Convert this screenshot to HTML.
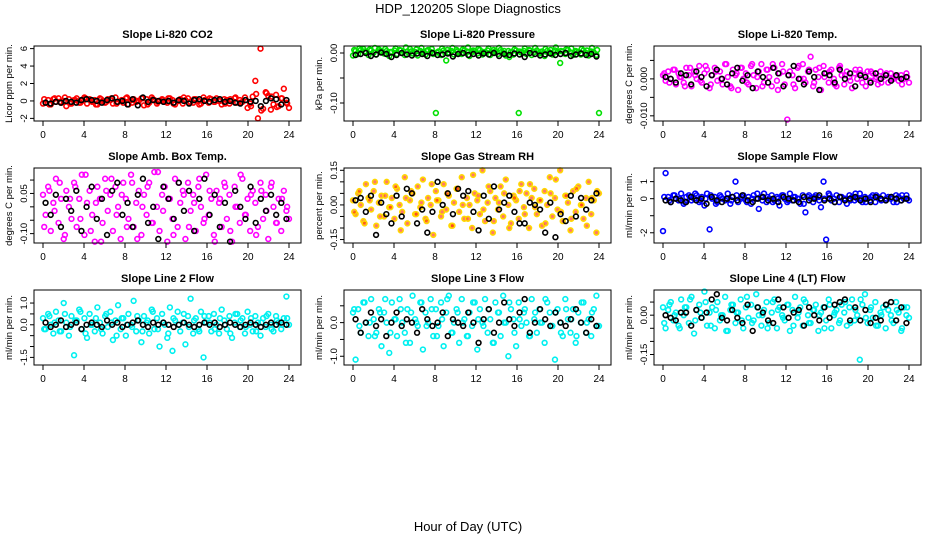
<!DOCTYPE html>
<html><head><meta charset="utf-8"><style>
html,body{margin:0;padding:0;background:#fff;}
svg{display:block;font-family:"Liberation Sans",Arial,sans-serif;}
</style></head><body>
<svg id="chart" width="936" height="540" viewBox="0 0 936 540">
<text x="468" y="13" text-anchor="middle" font-size="13">HDP_120205  Slope Diagnostics</text>
<text x="468" y="531" text-anchor="middle" font-size="13">Hour of Day (UTC)</text>
</svg>
<script>
const hourTicks=[0,4,8,12,16,20,24];
const titles=["Slope Li-820 CO2","Slope Li-820 Pressure","Slope Li-820 Temp.","Slope Amb. Box Temp.","Slope Gas Stream RH","Slope Sample Flow","Slope Line 2 Flow","Slope Line 3 Flow","Slope Line 4 (LT) Flow"];
const yLabels=["Licor ppm per min.","kPa per min.","degrees C per min.","degrees C per min.","percent per min.","ml/min per min.","ml/min per min.","ml/min per min.","ml/min per min."];
const yRanges=[[-2.3,6.3],[-0.136,0.014],[-0.0114,0.0089],[-0.135,0.145],[-0.165,0.16],[-2.6,1.8],[-1.85,1.6],[-1.26,0.97],[-0.19,0.096]];
const yTicks=[[-2,0,2,4,6],[-0.10,-0.05,0.00],[-0.010,-0.005,0.000,0.005],[-0.10,-0.05,0.00,0.05,0.10],[-0.15,-0.10,-0.05,0.00,0.05,0.10,0.15],[-2,-1,0,1],[-1.5,-1.0,-0.5,0.0,0.5,1.0],[-1.0,-0.5,0.0,0.5],[-0.15,-0.10,-0.05,0.00,0.05]];
const yTickLabels=[["-2","0","2","4","6"],["-0.10","","0.00"],["-0.010","","0.000",""],["-0.10","","","0.05",""],["-0.15","","","0.00","","","0.15"],["-2","","0","1"],["-1.5","","","0.0","","1.0"],["-1.0","","0.0",""],["-0.15","","","0.00",""]];
const colors=["#ff0000","#00e000","#ff00ff","#ff00ff","#ffd800","#0000ff","#00f0f0","#00f0f0","#00f0f0"];

const co2Color=[-0.3,-0.2,0.1,-0.4,0.2,-0.1,0.3,-0.2,0.0,-0.6,0.2,-0.3,0.1,0.3,-0.2,0.0,0.4,-0.3,0.2,-0.1,0.1,-0.4,0.3,0.0,-0.2,0.2,0.1,-0.3,0.4,-0.1,0.0,-0.2,0.3,-0.4,0.1,0.2,-0.1,0.0,0.3,-0.5,0.2,-0.2,0.4,0.1,-0.3,0.0,0.2,-0.1,-0.2,0.3,0.1,-0.4,0.0,0.2,-0.3,0.1,0.3,-0.1,-0.2,0.2,0.0,-0.3,0.4,0.1,-0.2,0.2,-0.1,0.3,0.0,-0.4,0.2,0.1,-0.3,0.0,0.3,-0.2,0.1,-0.1,0.4,-0.8,-0.3,0.5,2.3,-2.0,6.0,-0.9,1.0,0.6,-1.0,-0.4,0.7,-0.6,0.3,1.4,-0.2,-0.8];
const co2Extra=[0.2,-0.4,0.3,-0.1,0.4,-0.3,0.1,-0.2,0.3,0.0,-0.4,0.2,-0.1,0.3,-0.3,0.1,0.4,-0.2,0.0,0.3,-0.4,0.2,-0.1,0.1,0.3,-0.3,0.0,0.4,-0.2,0.2,-0.4,0.1,0.3,-0.1,0.0,-0.3,0.2,0.4,-0.2,0.1,-0.6,0.8,-1.1,0.9,0.5,-0.7,0.3,-0.3];
const co2Black=[-0.2,-0.3,-0.1,-0.2,0.0,-0.1,-0.2,0.1,0.2,0.1,0.0,-0.2,0.1,0.3,-0.1,0.0,-0.4,0.2,-0.5,0.4,-0.1,0.1,0.0,-0.1,0.0,-0.2,0.1,0.0,-0.3,0.1,0.2,0.0,-0.1,0.1,0.2,-0.1,0.0,-0.2,-0.3,0.1,-0.1,0.0,-0.6,0.0,0.3,0.2,-0.4,0.1];
const presColor=[-0.005,0.004,-0.002,0.006,0.008,0.002,-0.004,0.005,0.001,-0.003,0.007,0.003,-0.001,0.004,-0.006,0.002,0.005,-0.002,0.006,0.000,-0.004,0.003,0.008,-0.001,0.002,-0.005,0.004,0.001,-0.003,0.006,0.002,-0.002,-0.120,0.003,-0.004,0.005,-0.015,0.001,0.004,-0.003,0.006,0.000,-0.002,0.005,0.003,-0.006,0.002,0.004,-0.001,0.006,-0.003,0.002,0.005,-0.004,0.001,0.003,-0.002,0.006,0.000,-0.005,0.004,0.002,-0.003,0.005,-0.120,0.001,0.004,-0.002,0.006,-0.004,0.002,0.005,-0.001,0.003,-0.006,0.004,0.001,-0.003,0.005,0.002,-0.020,0.003,-0.002,0.006,0.001,-0.004,0.004,0.002,-0.003,0.005,0.000,-0.005,0.003,0.001,-0.004,-0.120];
const presExtra=[0.006,0.009,0.003,0.007,0.010,0.004,0.008,0.002,0.009,0.005,0.011,0.003,0.007,0.010,0.004,0.008,0.001,0.009,0.006,0.010,0.003,0.007,0.011,0.005,0.008,0.002,0.009,0.006,0.010,0.004,-0.008,0.007,0.003,0.009,0.005,0.010,0.002,0.008,0.006,0.011,0.004,0.007,0.009,0.003,0.008,0.005,0.010,0.006];
const presBlack=[-0.004,-0.002,0.000,-0.006,-0.003,0.001,-0.002,-0.008,-0.004,0.000,-0.003,-0.005,-0.001,-0.002,-0.006,0.000,-0.004,-0.003,-0.001,-0.007,-0.002,0.000,-0.004,-0.002,-0.005,-0.001,-0.003,0.000,-0.006,-0.002,-0.004,-0.001,-0.003,-0.008,0.000,-0.002,-0.005,-0.003,-0.001,-0.004,-0.002,0.000,-0.006,-0.003,-0.001,-0.004,-0.002,-0.007];
const tempColor=[0.001,-0.0005,0.002,0,0.0025,-0.0015,0.0015,0.0005,-0.001,0.003,0.001,-0.002,0.002,0,0.0035,-0.001,0.0015,0.0025,-0.0025,0.001,0.003,-0.0005,0.002,-0.0015,0.004,0.0005,-0.002,0.0025,0.001,-0.003,0.003,0,0.0015,-0.0015,0.0035,0.001,-0.0025,0.002,0.004,-0.001,0.0025,0.0005,-0.002,0.003,-0.0005,0.0015,0.004,-0.0015,-0.011,0.002,0.001,-0.0025,0.003,0,0.004,-0.001,0.002,0.006,-0.002,0.0025,0.0005,-0.003,0.0035,0.0015,-0.001,0.0025,0,-0.002,0.003,0.001,-0.0015,0.002,0.0005,-0.0025,0.0015,0,0.0025,-0.001,0.001,0.002,-0.0005,0.0015,0,-0.0015,0.002,0.0005,0.001,-0.001,0.0015,0,0.0005,-0.0005,0.001,0,0.0015,-0.001];
const tempExtra=[0.0015,-0.001,0.0025,0.0005,-0.002,0.003,0.001,-0.0005,0.0035,-0.0015,0.002,0,0.004,-0.0025,0.0015,0.003,-0.001,0.004,0.0005,-0.002,0.0025,0.004,-0.003,0.002,0.001,-0.0015,0.0035,0,0.0025,-0.001,0.003,0.0005,0.002,-0.0015,0.0035,0.001,-0.0005,0.0025,0.0015,-0.002,0.002,0.0005,-0.001,0.0015,0,0.001,-0.0015,0.0005];
const tempBlack=[0.0005,0,-0.001,0.0015,0.001,-0.0015,0.002,0.0005,-0.002,0.001,0.0025,0,-0.0015,0.0015,0.003,-0.0005,0.001,-0.0025,0.002,0.0005,-0.001,0.003,0.0015,-0.002,0.001,0.0035,0,-0.0015,0.002,0.0005,-0.003,0.0015,0.001,-0.001,0.0025,0,0.0015,-0.002,0.001,0.0005,-0.001,0.0015,0,0.001,-0.0005,0.001,0,0.0005];
const ambColor=[0.045,-0.03,0.075,-0.09,0.015,0.105,-0.06,0.03,-0.12,0.06,0,-0.045,0.09,-0.075,0.03,0.12,-0.105,0.015,0.06,-0.03,-0.13,0.075,0.03,-0.06,0.105,-0.015,0.045,-0.09,0.075,0,-0.12,0.09,0.03,-0.045,0.12,-0.075,0.015,0.06,-0.105,0.045,-0.03,0.09,-0.06,0.13,0,-0.09,0.045,0.075,-0.13,0.03,-0.045,0.105,-0.075,0.015,0.06,-0.12,0.09,-0.015,0.045,-0.09,0.075,0,-0.06,0.12,-0.03,0.03,-0.105,0.06,0.015,-0.075,0.09,-0.045,0.045,-0.13,0.075,0,-0.06,0.105,-0.03,0.03,-0.09,0.06,0.015,-0.075,0.09,-0.045,0.045,-0.12,0.075,0,-0.06,0.03,-0.09,0.06,-0.015,-0.045];
const ambExtra=[-0.075,0.06,-0.015,0.09,-0.105,0.03,0.075,-0.045,0.12,-0.09,0.015,-0.13,0.06,0.105,-0.03,0.045,-0.075,0.09,-0.12,0,0.075,-0.06,0.13,-0.015,0.03,-0.105,0.09,0.045,-0.075,0.015,0.105,-0.045,0.06,-0.13,0.03,0.075,-0.09,0,0.12,-0.03,0.045,-0.105,0.06,-0.015,0.09,-0.06,0.03,0];
const ambBlack=[0.015,-0.03,0.045,-0.075,0.03,-0.015,0.06,-0.09,0,0.075,-0.045,0.03,-0.105,0.06,0.09,-0.03,0.015,-0.075,0.045,0.105,-0.06,0,-0.12,0.075,0.03,-0.045,0.09,-0.015,0.06,-0.09,0.03,0.105,-0.03,0.045,-0.075,0.015,-0.13,0.06,0,-0.045,0.075,-0.06,0.03,-0.015,0.045,-0.03,0.015,-0.045];
const rhColor=[0.02,-0.04,0.05,0.00,-0.07,0.09,0.03,-0.02,0.06,-0.09,0.01,0.04,-0.05,0.10,-0.01,0.03,-0.06,0.07,0.00,-0.03,0.12,-0.08,0.02,0.05,-0.04,0.08,-0.01,0.11,-0.06,0.03,0.00,-0.13,0.06,0.02,-0.05,0.09,-0.02,0.04,-0.09,0.01,0.07,-0.03,0.12,-0.06,0.03,0.00,-0.10,0.05,0.02,-0.04,0.15,-0.07,0.01,0.06,-0.12,0.03,-0.02,0.08,-0.05,0.11,0.00,-0.08,0.04,0.02,-0.06,0.09,-0.01,0.05,-0.10,0.03,0.07,-0.04,0.02,-0.09,0.06,0.00,0.12,-0.05,0.03,-0.02,0.15,-0.07,0.04,0.01,-0.11,0.06,-0.03,0.08,0.00,-0.06,0.03,0.10,-0.04,0.02,-0.12,0.05];
const rhExtra=[-0.03,0.06,-0.08,0.02,0.10,-0.05,0.04,-0.01,0.08,-0.11,0.03,0.06,-0.04,0.01,-0.07,0.09,0.02,-0.03,0.05,-0.09,0.07,0.00,-0.06,0.13,0.04,-0.02,0.08,-0.07,0.01,0.05,-0.10,0.03,0.06,-0.04,0.09,-0.01,0.02,-0.08,0.05,0.11,-0.03,0.04,-0.06,0.07,0.00,-0.09,0.03,0.06];
const rhBlack=[0.02,0.03,-0.03,0.04,-0.13,0.01,-0.04,-0.08,0.04,-0.05,0.07,0.05,-0.08,-0.02,-0.12,-0.03,0.10,0.00,0.05,-0.04,0.07,0.04,0.06,-0.03,-0.11,0.04,-0.06,0.08,-0.02,0.01,0.04,-0.03,-0.08,-0.08,0.01,0.00,-0.02,-0.12,0.01,-0.14,-0.04,-0.07,0.04,-0.05,0.03,-0.02,0.02,0.05];
const flowColor=[-1.9,1.5,0.1,-0.2,0.2,0.0,-0.1,0.3,-0.3,0.1,0.2,-0.1,0.0,0.2,-0.2,0.1,-0.4,0.3,-1.8,0.0,0.1,-0.2,0.2,0.0,-0.1,0.3,-0.3,0.1,1.0,-0.2,0.0,0.2,-0.1,0.1,-0.3,0.2,0.0,-0.6,0.1,0.3,-0.2,0.0,0.2,-0.1,0.1,-0.4,0.2,0.0,-0.2,0.3,-0.1,0.1,0.0,-0.3,0.2,-0.8,0.1,0.0,-0.2,0.2,0.1,-0.5,1.0,-2.4,0.3,-0.1,0.0,0.2,-0.2,0.1,0.0,-0.3,0.2,0.1,-0.1,0.0,0.3,-0.2,0.1,0.0,-0.1,0.2,-0.2,0.1,0.0,0.2,-0.1,0.1,0.0,-0.2,0.2,0.1,-0.1,0.0,0.2,-0.1];
const flowExtra=[0.1,-0.1,0.2,0.0,-0.2,0.1,0.3,-0.1,0.0,0.2,-0.3,0.1,0.0,-0.1,0.2,0.1,-0.2,0.0,0.3,-0.1,0.1,-0.2,0.0,0.2,-0.1,0.1,0.0,-0.3,0.2,0.1,-0.1,0.0,0.2,-0.2,0.1,0.0,-0.1,0.3,0.0,-0.2,0.1,0.2,-0.1,0.0,0.1,-0.2,0.2,0.0];
const flowBlack=[-0.1,-0.2,0.0,-0.1,-0.2,0.1,-0.1,0.0,-0.3,0.1,-0.1,-0.2,0.0,0.1,-0.1,0.2,-0.1,-0.2,0.0,0.1,-0.1,0.0,-0.2,0.1,0.0,-0.1,-0.2,0.1,-0.1,0.0,0.2,-0.1,0.0,-0.2,0.1,-0.1,0.0,0.1,-0.1,0.0,-0.2,0.1,0.0,-0.1,0.1,0.0,-0.1,0.0];
const line2Color=[0.3,-0.2,0.5,0.0,-0.4,0.6,0.2,-0.3,1.0,0.1,-0.5,0.4,-1.4,0.2,0.7,-0.2,0.3,-0.6,0.5,0.0,-0.3,0.8,0.1,-0.4,0.4,-0.1,0.6,-0.7,0.2,0.9,-0.2,0.3,-0.5,0.5,0.0,1.1,-0.3,0.2,-0.8,0.4,0.1,-0.4,0.7,-0.2,0.3,-1.0,0.5,0.0,-0.6,0.8,-1.2,0.2,0.6,-0.3,0.1,-0.9,0.4,1.2,-0.4,0.3,-0.2,0.6,-1.5,0.1,0.4,-0.3,0.5,0.0,-0.4,0.7,0.2,-0.2,0.4,-0.6,0.1,0.5,-0.1,0.3,-0.4,0.6,0.0,-0.3,0.4,0.1,-0.5,0.3,-0.1,0.5,0.0,-0.3,0.4,0.1,-0.2,0.3,1.3,0.0];
const line2Extra=[-0.2,0.4,0.1,-0.3,0.5,-0.1,0.2,0.6,-0.4,0.0,0.3,-0.2,0.5,0.1,-0.5,0.3,0.0,-0.1,0.4,-0.3,0.2,0.6,-0.2,0.1,-0.4,0.3,0.0,0.5,-0.1,0.2,-0.3,0.4,0.1,-0.2,0.3,0.0,-0.4,0.5,0.2,-0.1,0.3,-0.3,0.1,0.4,-0.2,0.2,0.0,0.3];
const line2Black=[0.1,-0.1,0.0,0.2,-0.1,0.0,0.1,-0.2,0.0,0.1,0.0,-0.1,0.2,0.0,0.1,-0.1,0.0,0.1,0.2,0.0,-0.1,0.1,0.0,0.1,0.0,-0.1,0.0,0.1,0.0,-0.1,0.0,0.1,0.0,0.1,-0.1,0.0,0.1,0.0,-0.1,0.0,0.1,0.0,-0.1,0.0,0.1,0.0,0.1,0.0];
const line3Color=[0.3,-1.1,0.4,-0.3,0.6,0,-0.4,0.7,0.1,-0.3,0.4,-0.7,0.3,0,-0.9,0.6,0.1,-0.4,0.7,0,-0.3,0.4,-0.6,0.8,0.1,-0.1,0.6,-0.8,0.3,0,0.7,-0.4,0.4,-0.1,0.6,-0.7,0.3,0.8,-0.3,0,0.4,-0.6,0.7,0.1,-0.4,0.3,-0.1,0.6,-0.8,0.4,0,0.7,-0.3,0.1,-0.6,0.6,0.3,-0.4,0.8,0,-1.0,0.4,0.1,-0.7,0.6,-0.1,0.3,0,-0.4,0.7,0.1,-0.3,0.4,0,-0.6,0.6,0.3,-0.1,-1.1,0.4,0,-0.4,0.7,0.1,-0.3,0.4,-0.6,0.3,0,0.6,-0.3,0.1,-0.4,0.4,0.8,-0.1];
const line3Extra=[0.4,-0.1,0.6,0,-0.4,0.3,0.7,-0.3,0.1,0.4,-0.6,0.3,0,0.6,-0.1,0.4,-0.4,0.1,0.7,-0.3,0.3,0,-0.4,0.6,0.1,-0.1,0.4,-0.6,0.3,0,0.6,-0.3,0.1,0.4,-0.4,0.3,0,0.7,-0.1,0.3,-0.3,0.4,0.1,-0.4,0.6,0,0.3,-0.1];
const line3Black=[0.1,-0.3,0,0.3,-0.1,0.1,-0.4,0,0.3,-0.1,0.1,0,-0.3,0.4,0.1,-0.1,0,0.3,-0.4,0.1,0,-0.1,0.3,0,-0.6,0.1,0.4,-0.3,0,0.6,0.1,-0.1,0.3,0.7,-0.3,0,0.4,0.1,-0.1,0.3,0,-0.1,0.1,0.4,0,-0.3,0.1,-0.1];
const line4Color=[0.03,-0.05,0.02,0.05,-0.02,0.01,-0.04,0.06,0.00,0.03,-0.03,0.07,-0.07,0.02,0.04,-0.01,0.09,-0.04,0.01,0.03,-0.05,0.05,-0.02,0.00,0.07,-0.06,0.02,0.04,-0.03,0.01,0.06,-0.05,0.03,-0.01,0.04,-0.02,0.08,0.00,-0.04,0.02,0.05,-0.03,0.01,0.06,-0.05,0.03,0.00,-0.02,0.04,-0.06,0.02,0.07,-0.01,0.03,-0.04,0.05,0.00,-0.03,0.02,0.04,-0.06,0.01,0.03,-0.02,0.06,-0.05,0.00,0.02,-0.03,0.04,0.01,-0.04,0.03,0.06,-0.02,0.00,-0.17,0.04,0.08,-0.03,0.02,-0.01,0.05,-0.04,0.01,0.03,-0.05,0.02,0.00,-0.03,0.05,0.01,-0.06,0.03,0.00,-0.01];
const line4Extra=[-0.03,0.04,0.00,-0.05,0.03,0.06,-0.02,0.01,0.05,-0.04,0.02,0.00,-0.06,0.04,0.01,-0.02,0.07,-0.03,0.03,0.00,-0.05,0.05,0.02,-0.01,0.04,-0.04,0.01,0.06,-0.03,0.02,0.00,-0.05,0.04,0.01,-0.02,0.05,-0.03,0.02,0.06,-0.01,0.03,-0.04,0.00,0.04,-0.02,0.02,-0.05,0.03];
const line4Black=[0.00,-0.01,-0.02,0.01,0.01,-0.04,0.02,-0.01,0.01,0.06,0.08,-0.01,-0.02,0.02,-0.01,-0.03,0.04,-0.06,0.03,0.01,-0.02,-0.03,0.06,0.03,-0.01,0.01,0.02,-0.04,0.03,0.00,-0.02,0.03,-0.01,0.04,0.05,0.06,-0.02,0.03,-0.02,0.02,-0.03,-0.01,-0.02,0.04,0.05,-0.02,0.03,-0.03];

const colorSeries=[co2Color,presColor,tempColor,ambColor,rhColor,flowColor,line2Color,line3Color,line4Color];
const extraSeries=[co2Extra,presExtra,tempExtra,ambExtra,rhExtra,flowExtra,line2Extra,line3Extra,line4Extra];
const blackSeries=[co2Black,presBlack,tempBlack,ambBlack,rhBlack,flowBlack,line2Black,line3Black,line4Black];

const svg=document.getElementById('chart');
const NS='http://www.w3.org/2000/svg';
function mk(tag,attrs,parent){const e=document.createElementNS(NS,tag);for(const k in attrs)e.setAttribute(k,attrs[k]);(parent||svg).appendChild(e);return e;}

for(let p=0;p<9;p++){
  const col=p%3,row=Math.floor(p/3);
  const L=34+col*310,R=301+col*310,T=46+row*122,B=121+row*122;
  const xs=h=>43+col*310+(h/24)*246;
  const [y0,y1]=yRanges[p];
  const ys=v=>B-(v-y0)/(y1-y0)*(B-T);
  const g=mk('g',{});
  
  
  const t=mk('text',{x:(L+R)/2,y:T-8,'text-anchor':'middle','font-size':'11','font-weight':'bold'},g);
  t.textContent=titles[p];
  
  
  const yl=mk('text',{x:0,y:0,'text-anchor':'middle','font-size':'9.5',transform:`translate(${L-22},${(T+B)/2}) rotate(-90)`},g);
  yl.textContent=yLabels[p];
  
  
  const fillC=p==4?'#ff2000':'none';
  const cs=colorSeries[p],es=extraSeries[p],bs=blackSeries[p];
  cs.forEach((v,i)=>{
    const c=mk('circle',{cx:xs(i*24/(cs.length-1)),cy:ys(v),r:2.4,fill:fillC,'fill-opacity':0.6,stroke:colors[p],'stroke-width':1.6},g);
    
    
  });
  es.forEach((v,i)=>{
    const c=mk('circle',{cx:xs(0.12+i*23.7/(es.length-1)),cy:ys(v),r:2.4,fill:fillC,'fill-opacity':0.6,stroke:colors[p],'stroke-width':1.6},g);
    
    
  });
  bs.forEach((v,i)=>{
    const c=mk('circle',{cx:xs(0.25+i*23.5/(bs.length-1)),cy:ys(v),r:2.4,fill:'none',stroke:'#000','stroke-width':1.6},g);
    
    
  });
  const box=mk('rect',{x:L,y:T,width:R-L,height:B-T,fill:'none',stroke:'#000','stroke-width':1},g);
  
  
  hourTicks.forEach(h=>{
    const tk=mk('line',{x1:xs(h),x2:xs(h),y1:B,y2:B+5,stroke:'#000'},g);
    
    
    const tl=mk('text',{x:xs(h),y:B+17,'text-anchor':'middle','font-size':'10'},g);
    tl.textContent=h;
    
    
  });
  yTicks[p].forEach((v,i)=>{
    const tk=mk('line',{x1:L-4,x2:L,y1:ys(v),y2:ys(v),stroke:'#000'},g);
    
    
    const lab=yTickLabels[p][i];
    if(lab){
      const tl=mk('text',{x:0,y:0,'text-anchor':'middle','font-size':'9.5',transform:`translate(${L-7},${ys(v)}) rotate(-90)`},g);
      tl.textContent=lab;
      
      
    }
  });
}
</script>
</body></html>
